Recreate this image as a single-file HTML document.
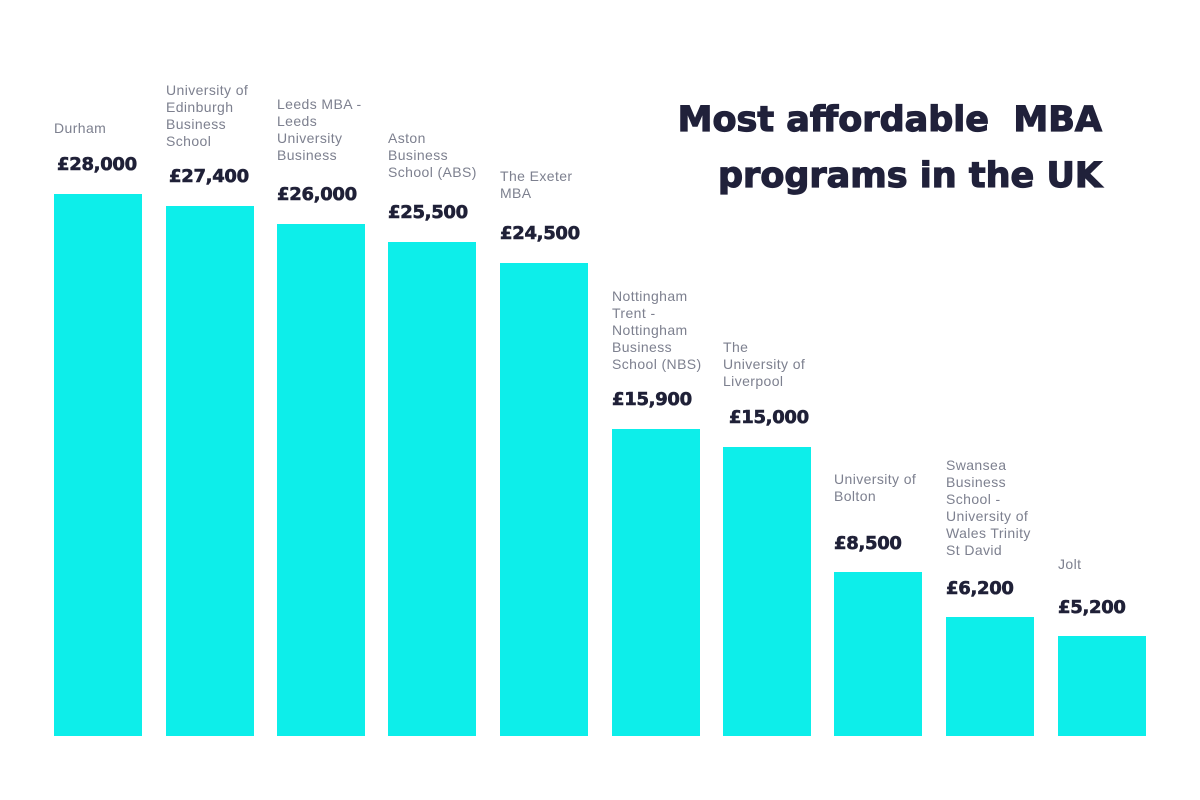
<!DOCTYPE html>
<html>
<head>
<meta charset="utf-8">
<style>
  html, body { margin: 0; padding: 0; }
  body { width: 1200px; height: 800px; background: #ffffff; position: relative; overflow: hidden; }
  .bar { position: absolute; background: #0DEEEA; width: 88px; }
  .lbl { position: absolute; font-family: "Liberation Sans", sans-serif; font-size: 14px; line-height: 17px; color: #7D808F; letter-spacing: 0.4px; white-space: nowrap; }
  .val { position: absolute; font-family: "DejaVu Sans", "Liberation Sans", sans-serif; font-weight: bold; font-size: 18px; line-height: 22px; color: #1F2037; letter-spacing: -0.3px; white-space: nowrap; -webkit-text-stroke: 0.6px #1F2037; }
  .title { position: absolute; right: 98px; font-family: "DejaVu Sans", "Liberation Sans", sans-serif; font-weight: bold; font-size: 35px; line-height: 40px; color: #20213A; white-space: pre; text-align: right; -webkit-text-stroke: 1.2px #20213A; }
</style>
</head>
<body>
  <div class="title" style="top:100px;">Most affordable  MBA</div>
  <div class="title" style="top:156px;">programs in the UK</div>

  <!-- Bars -->
  <div class="bar" style="left:54px; top:194px; height:542px;"></div>
  <div class="bar" style="left:166px; top:206px; height:530px;"></div>
  <div class="bar" style="left:277px; top:224px; height:512px;"></div>
  <div class="bar" style="left:388px; top:242px; height:494px;"></div>
  <div class="bar" style="left:500px; top:263px; height:473px;"></div>
  <div class="bar" style="left:612px; top:429px; height:307px;"></div>
  <div class="bar" style="left:723px; top:447px; height:289px;"></div>
  <div class="bar" style="left:834px; top:572px; height:164px;"></div>
  <div class="bar" style="left:946px; top:617px; height:119px;"></div>
  <div class="bar" style="left:1058px; top:636px; height:100px;"></div>

  <!-- Labels -->
  <div class="lbl" style="left:54px; top:120px;">Durham</div>
  <div class="lbl" style="left:166px; top:82px;">University of<br>Edinburgh<br>Business<br>School</div>
  <div class="lbl" style="left:277px; top:96px;">Leeds MBA -<br>Leeds<br>University<br>Business</div>
  <div class="lbl" style="left:388px; top:130px;">Aston<br>Business<br>School (ABS)</div>
  <div class="lbl" style="left:500px; top:168px;">The Exeter<br>MBA</div>
  <div class="lbl" style="left:612px; top:288px;">Nottingham<br>Trent -<br>Nottingham<br>Business<br>School (NBS)</div>
  <div class="lbl" style="left:723px; top:339px;">The<br>University of<br>Liverpool</div>
  <div class="lbl" style="left:834px; top:471px;">University of<br>Bolton</div>
  <div class="lbl" style="left:946px; top:457px;">Swansea<br>Business<br>School -<br>University of<br>Wales Trinity<br>St David</div>
  <div class="lbl" style="left:1058px; top:556px;">Jolt</div>

  <!-- Values -->
  <div class="val" style="left:57px; top:154px;">£28,000</div>
  <div class="val" style="left:169px; top:166px;">£27,400</div>
  <div class="val" style="left:277px; top:184px;">£26,000</div>
  <div class="val" style="left:388px; top:202px;">£25,500</div>
  <div class="val" style="left:500px; top:223px;">£24,500</div>
  <div class="val" style="left:612px; top:389px;">£15,900</div>
  <div class="val" style="left:729px; top:407px;">£15,000</div>
  <div class="val" style="left:834px; top:533px;">£8,500</div>
  <div class="val" style="left:946px; top:578px;">£6,200</div>
  <div class="val" style="left:1058px; top:597px;">£5,200</div>
</body>
</html>
